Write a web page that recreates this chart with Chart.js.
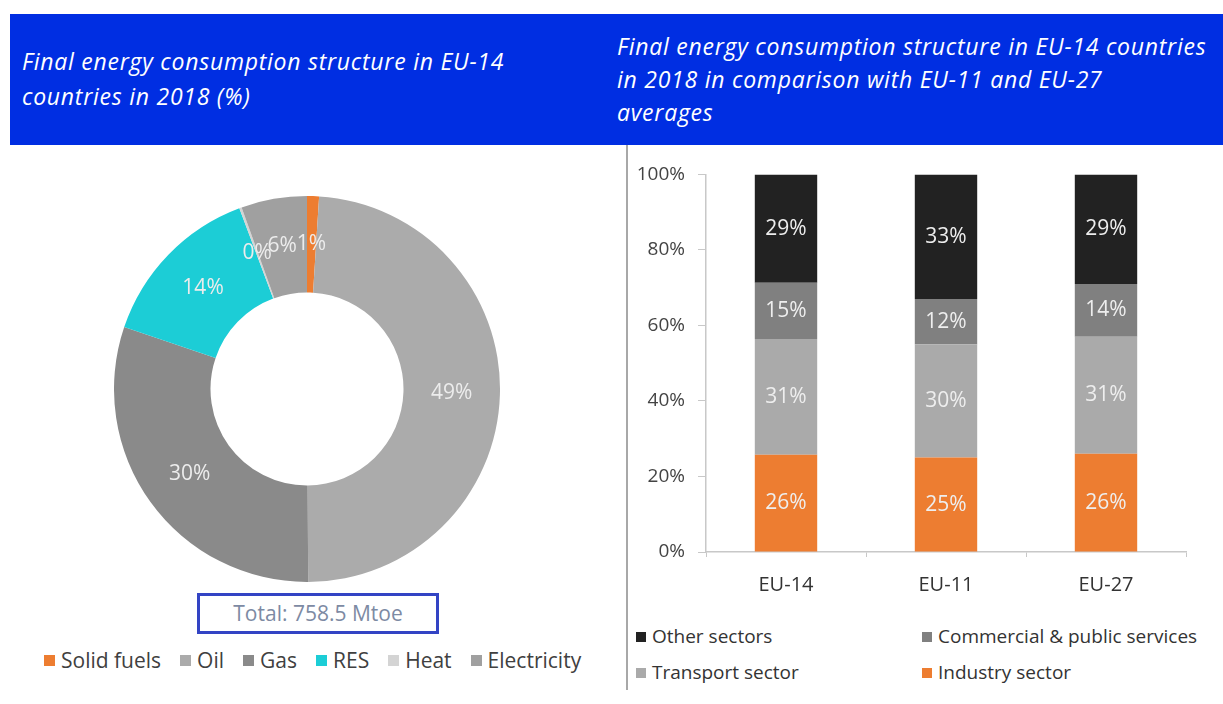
<!DOCTYPE html>
<html>
<head>
<meta charset="utf-8">
<script src="https://cdn.jsdelivr.net/npm/chart.js@4.4.1/dist/chart.umd.min.js"></script>
<style>
    body { margin: 0; width: 1223px; height: 704px; background: #fff; position: relative; overflow: hidden; font-family: 'Open Sans', sans-serif; }
    .band { position: absolute; left: 10px; top: 14px; width: 1213px; height: 131px; background: #002ee2; }
    .title { position: absolute; color: #fff; font-style: italic; font-size: 23px; letter-spacing: 0.75px; white-space: nowrap; }
    .sep { position: absolute; left: 626px; top: 145px; width: 2px; height: 545px; background: #a8a8a8; }
    .total { position: absolute; left: 197px; top: 593px; width: 236px; height: 35px; border: 3px solid #3344c4; color: #7d8aa3; font-size: 21px; text-align: center; line-height: 35px; }
    .legend { position: absolute; font-size: 21px; line-height: 28px; color: #404040; white-space: nowrap; }
    .legend span.box { display: inline-block; width: 11px; height: 11px; margin-right: 6px; vertical-align: 2px; }
    canvas { position: absolute; }
</style>
</head>
<body>
<div class="band"></div>
<div class="title" style="left:22px; top:44px; line-height:35px;">Final energy consumption structure in EU-14<br>countries in 2018 (%)</div>
<div class="title" style="left:617px; top:30px; line-height:33px;">Final energy consumption structure in EU-14 countries<br>in 2018 in comparison with EU-11 and EU-27<br>averages</div>
<div class="sep"></div>

<canvas id="mixChart" width="386" height="386" style="left:114px; top:196px;"></canvas>
<div class="total">Total: 758.5 Mtoe</div>
<div id="mixLegend" class="legend" style="left:44px; top:646px;"></div>

<canvas id="sectorChart" width="580" height="452" style="left:630px; top:150px;"></canvas>
<div id="sectorLegend"></div>

<script>
// Left chart: fuel mix, EU-14, 2018 (% of final energy consumption)
const fuelLabels = ['Solid fuels', 'Oil', 'Gas', 'RES', 'Heat', 'Electricity'];
const fuelShares = [1.0, 48.9, 30.3, 14.1, 0.2, 5.5];
const fuelColors = ['#ed7d31', '#ababab', '#8a8a8a', '#1ccdd6', '#d4d4d4', '#a0a0a0'];

// Right chart: sector shares (as printed on the bars)
const regions = ['EU-14', 'EU-11', 'EU-27'];
const industryShare = [26, 25, 26];
const transportShare = [31, 30, 31];
const commercialShare = [15, 12, 14];
const otherShare = [29, 33, 29];
const percentTicks = [0, 20, 40, 60, 80, 100];

// draws value labels in the middle of each bar segment / ring slice
const valueLabels = {
    id: 'valueLabels',
    afterDatasetsDraw(chart) {
        const ctx = chart.ctx;
        ctx.save();
        ctx.textAlign = 'center';
        ctx.textBaseline = 'middle';
        chart.data.datasets.forEach(function(ds, i) {
            const meta = chart.getDatasetMeta(i);
            meta.data.forEach(function(el, j) {
                const txt = ds.shownLabels[j];
                let x, y;
                if (meta.type === 'doughnut') {
                    const p = el.tooltipPosition();
                    x = p.x; y = p.y;
                } else {
                    x = el.x; y = (el.y + el.base) / 2;
                }
                ctx.font = '21px "Open Sans"';
                ctx.fillStyle = ds.labelColor || '#eeeeee';
                ctx.fillText(txt, x, y);
            });
        });
        ctx.restore();
    }
};

new Chart(document.getElementById('mixChart'), {
    type: 'doughnut',
    data: {
        labels: fuelLabels,
        datasets: [{
            data: fuelShares,
            backgroundColor: fuelColors,
            borderWidth: 0,
            shownLabels: fuelShares.map(v => Math.round(v) + '%'),
            labelColor: '#ececec'
        }]
    },
    options: {
        responsive: false,
        animation: false,
        cutout: '50%',
        plugins: { legend: { display: false }, tooltip: { enabled: false } }
    },
    plugins: [valueLabels]
});

// legend under the doughnut
const mixLegend = document.getElementById('mixLegend');
fuelLabels.forEach(function(name, i) {
    const item = document.createElement('span');
    item.style.marginRight = '19px';
    item.innerHTML = '<span class="box" style="background:' + fuelColors[i] + '"></span>' + name;
    mixLegend.appendChild(item);
});

// 100% stacked: normalise each region's printed shares to its own total
const totals = regions.map((r, i) => industryShare[i] + transportShare[i] + commercialShare[i] + otherShare[i]);
function norm(arr) {
    return arr.map((v, i) => v / totals[i] * 100);
}

const sectorSeries = [
    { label: 'Industry sector', values: industryShare, color: '#ed7d31' },
    { label: 'Transport sector', values: transportShare, color: '#aaaaaa' },
    { label: 'Commercial & public services', values: commercialShare, color: '#808080' },
    { label: 'Other sectors', values: otherShare, color: '#222222' }
];

new Chart(document.getElementById('sectorChart'), {
    type: 'bar',
    data: {
        labels: regions,
        datasets: sectorSeries.map(s => ({
            label: s.label,
            data: norm(s.values),
            backgroundColor: s.color,
            shownLabels: s.values.map(v => v + '%'),
            labelColor: '#eeeeee',
            categoryPercentage: 1,
            barPercentage: 0.39
        }))
    },
    options: {
        responsive: false,
        animation: false,
        layout: { padding: { top: 14, right: 24, left: 0, bottom: 0 } },
        scales: {
            x: {
                stacked: true,
                grid: { drawOnChartArea: false, tickLength: 5, color: '#c8c8c8' },
                border: { color: '#c8c8c8', width: 1.5 },
                ticks: { font: { family: 'Open Sans', size: 20 }, color: '#333', padding: 16 },
                afterFit: function(scale) { scale.height = 50; }
            },
            y: {
                stacked: true,
                min: 0,
                max: 100,
                afterBuildTicks: function(scale) {
                    scale.ticks = percentTicks.map(v => ({ value: v }));
                },
                grid: { drawOnChartArea: false, tickLength: 8, color: '#c8c8c8' },
                border: { color: '#c8c8c8', width: 1.5 },
                ticks: {
                    font: { family: 'Open Sans', size: 19 },
                    color: '#444',
                    padding: 13,
                    callback: v => v + '%'
                },
                afterFit: function(scale) { scale.width = 76; }
            }
        },
        plugins: { legend: { display: false }, tooltip: { enabled: false } }
    },
    plugins: [valueLabels]
});

// 2x2 legend under the bars, same order as the original
const legendSpots = [
    { idx: 3, left: 636, top: 623 },
    { idx: 2, left: 922, top: 623 },
    { idx: 1, left: 636, top: 659 },
    { idx: 0, left: 922, top: 659 }
];
const sectorLegend = document.getElementById('sectorLegend');
legendSpots.forEach(function(spot) {
    const s = sectorSeries[spot.idx];
    const item = document.createElement('div');
    item.className = 'legend';
    item.style.left = spot.left + 'px';
    item.style.top = spot.top + 'px';
    item.style.fontSize = '19px';
    item.style.lineHeight = '26px';
    item.style.color = '#333';
    item.innerHTML = '<span class="box" style="background:' + s.color + '; width:10px; height:10px; vertical-align:1px;"></span>' + s.label;
    sectorLegend.appendChild(item);
});
</script>
</body>
</html>
